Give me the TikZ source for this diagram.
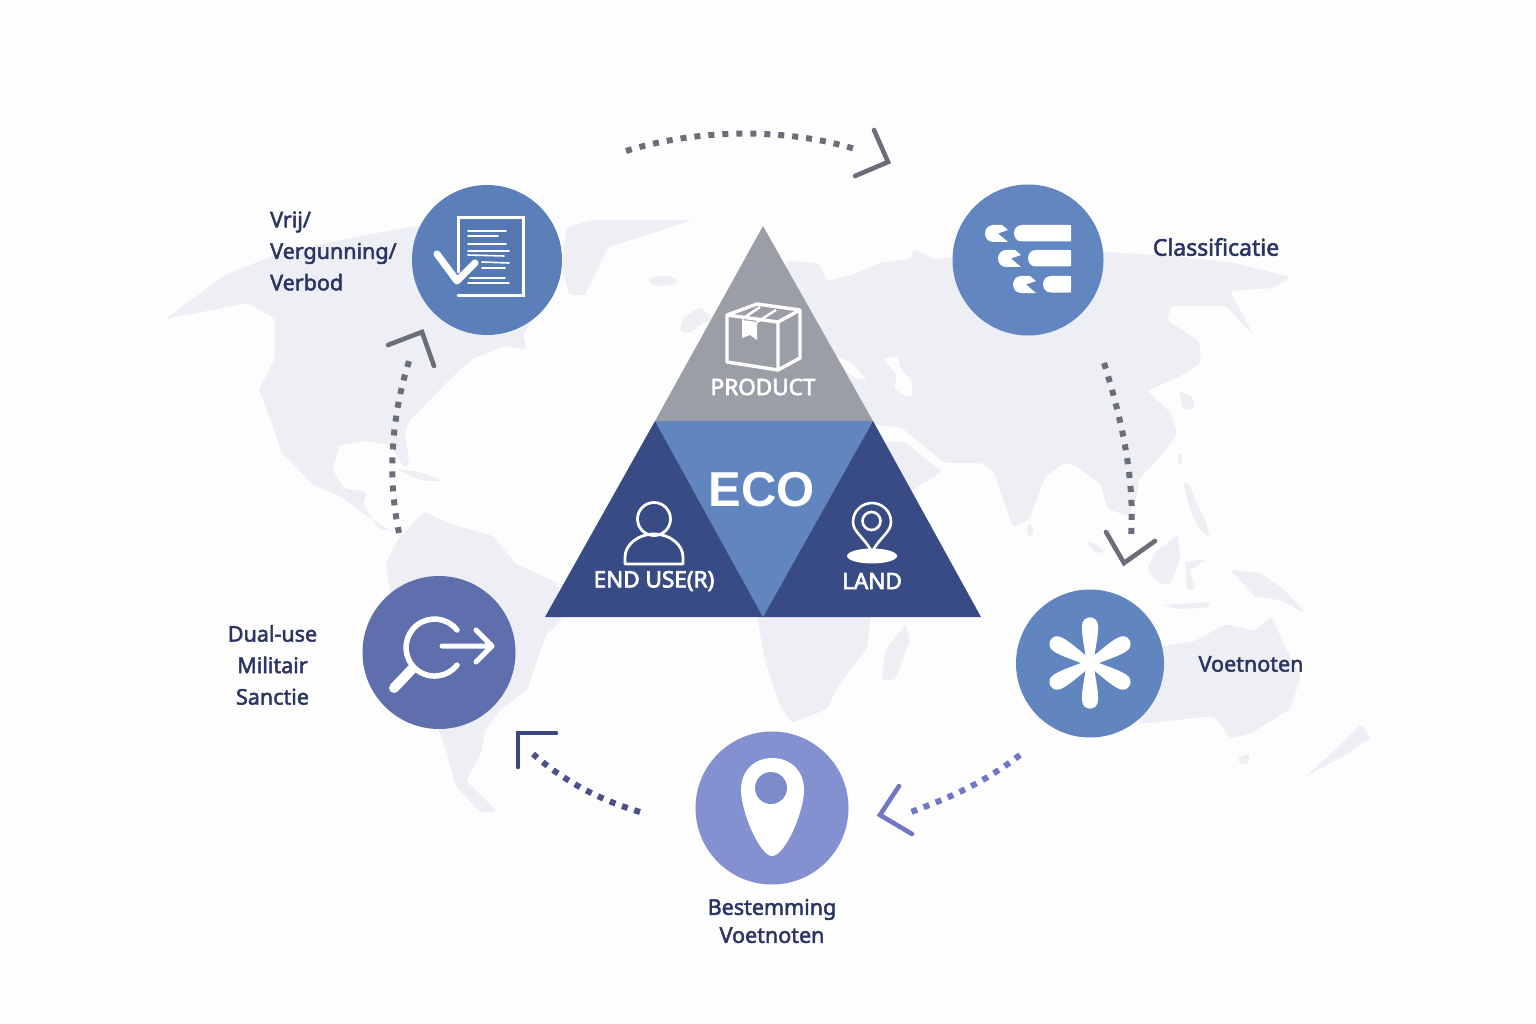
\documentclass[tikz,border=0pt]{standalone}
\usepackage{fontspec}
\setmainfont{Noto Sans}
\newfontfamily\lblfont[FakeBold=2.2]{Noto Sans}
\newfontfamily\triofont[FakeBold=3]{Noto Sans}
\newfontfamily\ecofont{Liberation Sans}[BoldFont={Liberation Sans Bold}]
\definecolor{bgc}{HTML}{FDFDFD}
\definecolor{landc}{HTML}{EDEFF4}
\definecolor{txtc}{HTML}{2A3563}
\definecolor{grayt}{HTML}{9B9EA6}
\definecolor{midt}{HTML}{6085BF}
\definecolor{darkt}{HTML}{384B85}
\definecolor{gdot}{HTML}{6B6E78}
\definecolor{pdot}{HTML}{6F78C4}
\definecolor{ddot}{HTML}{4D5186}
\definecolor{dchev}{HTML}{3C4680}
\definecolor{hubA}{HTML}{5B7FB9}
\definecolor{hubB}{HTML}{6286C0}
\definecolor{hubC}{HTML}{6085BF}
\definecolor{hubD}{HTML}{8391D0}
\definecolor{hubE}{HTML}{5F6FAE}
\definecolor{docin}{HTML}{5678B2}
\definecolor{pinhole}{HTML}{7D8DCC}
\tikzset{
  land/.style={fill=landc,draw=none,rounded corners=3pt},
  hole/.style={fill=bgc,draw=none,rounded corners=2pt},
  hub/.style={circle,draw=none,inner sep=0pt,minimum size=#1},
  lbl/.style={text=txtc,inner sep=0pt,font=\lblfont\fontsize{21.5}{31.5}\selectfont},
  trio/.style={text=white,inner sep=0pt,font=\triofont\fontsize{22.5}{26}\selectfont},
  wline/.style={draw=white,line cap=round,line join=round},
  dots/.style={line width=6pt,dash pattern=on 6pt off 8pt},
  chev/.style={line width=4.6pt,line join=miter,line cap=round,fill=none}
}
\begin{document}
\begin{tikzpicture}[x=1pt,y=-1pt]
\useasboundingbox (0,0) rectangle (1536,1024);
\fill[bgc] (0,0) rectangle (1536,1024);
% ---- map
\fill[land] (166,319)--(198,295)--(225,275)--(275,255)--(340,240)--(420,225)--(470,240)--(560,280)--(523,334)--(527,350)--(504,346)--(474,358)--(451,378)--(428,402)--(409,421)--(405,433)--(409,461)--(405,469)--(390,445)--(366,441)--(340,445)--(332,469)--(344,488)--(367,492)--(363,504)--(378,528)--(393,532)--(367,516)--(340,496)--(313,485)--(298,469)--(282,453)--(271,421)--(259,390)--(275,358)--(275,319)--(248,303)--cycle;
\fill[land] (397,469)--(420,472)--(443,481)--(425,481)--(410,476)--cycle;
\fill[land] (424,512)--(451,524)--(493,536)--(516,564)--(558,583)--(562,619)--(546,635)--(527,690)--(500,710)--(485,730)--(481,753)--(466,781)--(497,811)--(481,813)--(455,785)--(447,753)--(439,730)--(390,591)--(386,564)--(397,540)--cycle;
\fill[land] (566,228)--(592,220)--(692,220)--(657,232)--(608,247)--(585,295)--(569,295)--(562,267)--cycle;
\fill[landc] (663,281) ellipse[x radius=14pt,y radius=5pt];
\fill[land] (682,320)--(695,310)--(700,307)--(713,318)--(700,325)--(690,333)--(680,332)--cycle;
\fill[land] (788,261)--(819,263)--(827,281)--(855,274)--(879,263)--(910,259)--(914,249)--(934,259)--(980,255)--(1104,252)--(1175,256)--(1234,263)--(1290,277)--(1274,288)--(1230,291)--(1254,336)--(1226,306)--(1171,306)--(1167,320)--(1199,341)--(1201,363)--(1179,377)--(1147,391)--(1171,413)--(1177,434)--(1155,463)--(1140,477)--(1136,499)--(1128,516)--(1108,509)--(1100,484)--(1076,466)--(1064,463)--(1045,477)--(1029,520)--(1013,527)--(993,470)--(981,463)--(945,463)--(935,455)--(902,428)--(870,424)--(780,400)--(770,300)--cycle;
\fill[land] (800,440)--(905,442)--(942,472)--(917,487)--(905,500)--(871,616)--(867,649)--(839,684)--(827,709)--(792,723)--(780,706)--(765,660)--(757,617)--(750,500)--cycle;
\fill[land] (906,624)--(910,640)--(895,680)--(882,680)--(885,650)--cycle;
\fill[hole] (837,357)--(850,362)--(867,380)--(855,378)--(845,370)--cycle;
\fill[hole] (883,359)--(898,356)--(900,368)--(912,381)--(912,397)--(903,395)--(894,388)--(897,375)--cycle;
\fill[hole] (1147,391)--(1179,385)--(1195,409)--(1180,412)--(1170,395)--cycle;
\fill[land] (1179,391)--(1192,396)--(1195,409)--(1183,410)--cycle;
\fill[land] (1179,452)--(1183,456)--(1180,467)--(1177,462)--cycle;
\fill[land] (1183,482)--(1190,485)--(1195,500)--(1205,520)--(1210,538)--(1200,530)--(1190,510)--cycle;
\fill[land] (1147,570)--(1155,552)--(1178,535)--(1180,560)--(1170,584)--(1160,584)--cycle;
\fill[land] (1086,541)--(1095,543)--(1105,552)--(1095,553)--cycle;
\fill[land] (1163,605)--(1210,602)--(1208,608)--(1175,609)--cycle;
\fill[land] (1185,562)--(1207,559)--(1190,570)--(1195,590)--(1187,590)--cycle;
\fill[land] (1230,570)--(1260,573)--(1285,590)--(1305,613)--(1280,600)--(1255,597)--(1240,580)--cycle;
\fill[land] (1029,522)--(1034,530)--(1030,538)--(1026,530)--cycle;
\fill[land] (1139,650)--(1195,641)--(1226,624)--(1254,631)--(1272,616)--(1282,641)--(1301,677)--(1290,709)--(1250,734)--(1230,738)--(1214,716)--(1139,724)--cycle;
\fill[land] (1238,757)--(1250,754)--(1248,764)--(1240,765)--cycle;
\fill[land] (1361,724)--(1371,738)--(1345,755)--(1305,777)--(1335,750)--cycle;
% ---- connectors
\coordinate (a1s) at (626,151); \coordinate (a1e) at (858,150);
\coordinate (h1a) at (874,130); \coordinate (h1t) at (888,162); \coordinate (h1b) at (855,176);
\draw[gdot,dots] (a1s) .. controls (700,128) and (790,128) .. (a1e);
\draw[gdot,chev] (h1a)--(h1t)--(h1b);
\coordinate (a2s) at (1104,363); \coordinate (a2e) at (1131,537);
\coordinate (h2a) at (1106,532); \coordinate (h2t) at (1124,563); \coordinate (h2b) at (1155,541);
\draw[gdot,dots] (a2s) .. controls (1122,420) and (1135,480) .. (a2e);
\draw[gdot,chev] (h2a)--(h2t)--(h2b);
\coordinate (a3s) at (1020,755); \coordinate (a3e) at (908,813);
\coordinate (h3a) at (899,786); \coordinate (h3t) at (880,815); \coordinate (h3b) at (912,834);
\draw[pdot,dots,dash pattern=on 6pt off 7pt] (a3s) .. controls (985,782) and (950,798) .. (a3e);
\draw[pdot,chev] (h3a)--(h3t)--(h3b);
\coordinate (a4s) at (640,812); \coordinate (a4e) at (533,754);
\coordinate (h4a) at (556,733); \coordinate (h4t) at (518,733); \coordinate (h4b) at (518,767);
\draw[ddot,dots,dash pattern=on 6pt off 7pt] (a4s) .. controls (600,800) and (565,782) .. (a4e);
\draw[dchev,chev] (h4a)--(h4t)--(h4b);
\coordinate (a5s) at (399,533); \coordinate (a5e) at (410,358);
\coordinate (h5a) at (388,345); \coordinate (h5t) at (422,332); \coordinate (h5b) at (434,366);
\draw[gdot,dots] (a5s) .. controls (388,480) and (390,420) .. (a5e);
\draw[gdot,chev] (h5a)--(h5t)--(h5b);
% ---- triangle
\fill[grayt] (763,226)--(873,421)--(655,421)--cycle;
\fill[midt] (655,421)--(873,421)--(763,617)--cycle;
\fill[darkt] (655,421)--(763,617)--(545,617)--cycle;
\fill[darkt] (873,421)--(981,617)--(763,617)--cycle;
% box icon
\draw[white,line width=3.4pt,line join=round] (757,304)--(800,310)--(800,358)--(778,370)--(727,362)--(727,315)--cycle;
\draw[white,line width=3.4pt,line join=round] (727,315)--(778,322)--(778,370) (778,322)--(800,310);
\draw[white,line width=2.5pt] (742,319)--(760,307) (757,322)--(776,310);
\fill[white] (742,320)--(742,338)--(750,335)--(757,340)--(757,322)--cycle;
% person
\draw[white,line width=2.8pt] (654,519) circle[radius=16.5pt];
\draw[white,line width=2.8pt,line join=round] (625,564)--(625,557) .. controls (625,545) and (638,534) .. (654,534) .. controls (670,534) and (683,545) .. (683,557)--(683,564)--cycle;
% land pin
\fill[white] (872,556) ellipse[x radius=25pt,y radius=7.5pt];
\draw[white,fill=darkt,line width=2.6pt,line join=round] (872,552) .. controls (864,537) and (853,532) .. (853,522) .. controls (853,511) and (862,503) .. (872,503) .. controls (882,503) and (891,511) .. (891,522) .. controls (891,532) and (880,537) .. (872,552)--cycle;
\draw[white,line width=2.6pt] (871.5,521) circle[radius=9pt];
\node[trio] (tproduct) at (763,387) {PRODUCT};
\node[trio] (tenduse) at (654,581) {END USE(R)};
\node[trio] (tland) at (872,581) {LAND};
\node[text=white,inner sep=0pt,font=\ecofont\bfseries\fontsize{49}{50}\selectfont] (teco) at (762,490) {ECO};
% ---- hubs
\node[hub=150pt,fill=hubA] (c1) at (487,260) {};
\node[hub=151pt,fill=hubB] (c2) at (1028,260) {};
\node[hub=148pt,fill=hubC] (c3) at (1090,663.5) {};
\node[hub=153pt,fill=hubD] (c4) at (772,808) {};
\node[hub=153pt,fill=hubE] (c5) at (439,652.5) {};
% doc icon
\fill[docin] (460,220) rectangle (521,293);
\draw[white,line width=3pt,line cap=round] (458,272)--(458,218)--(523,218)--(523,295)--(458,295);
\draw[wline,line width=1.6pt]
 (468,231)--(506,231) (468,236)--(498,236) (468,244)--(506,244) (468,251)--(509,251)
 (468,255)--(504,256) (482,262)--(509,263) (482,268)--(505,268) (470,278)--(505,278) (468,283)--(509,283);
\draw[wline,line width=7pt] (437,254)--(457,281)--(475,263);
% classification icon
\foreach \bx/\by/\bw in {1014/225/57,1028/250/43,1043/276/28}{
  \fill[white] (\bx+8,\by) -- (\bx+\bw-2,\by) .. controls (\bx+\bw,\by) and (\bx+\bw,\by) .. (\bx+\bw,\by+2) -- (\bx+\bw,\by+14.5) .. controls (\bx+\bw,\by+16.5) and (\bx+\bw,\by+16.5) .. (\bx+\bw-2,\by+16.5) -- (\bx+8,\by+16.5) .. controls (\bx-2.6,\by+16.5) and (\bx-2.6,\by) .. (\bx+8,\by)--cycle;
}
\foreach \px/\py in {985/225,998/250,1013/276}{
  \fill[white] (\px+23,\py+5) -- (\px+17,\py) -- (\px+8.5,\py) .. controls (\px-2.8,\py) and (\px-2.8,\py+17) .. (\px+8.5,\py+17) -- (\px+23,\py+17) -- (\px+13,\py+8.5) -- cycle;
}
% asterisk
\foreach \ang in {0,60,120,180,240,300}{
  \fill[white,shift={(1090,663)},rotate=\ang] (-4,-4) .. controls (-5.5,-16) and (-8.5,-28) .. (-8,-37) .. controls (-8,-48.5) and (8,-48.5) .. (8,-37) .. controls (8.5,-28) and (5.5,-16) .. (4,-4) -- cycle;
}
\fill[white] (1090,663) circle[radius=8pt];
% magnifier + arrow
\draw[white,line width=5.5pt,line cap=round] (457,630) arc[start angle=38,end angle=322,radius=28.5pt];
\draw[white,line width=10pt,line cap=round] (412,669)--(394,688);
\draw[white,line width=5pt,line cap=round,line join=round] (442,646)--(492,646) (476,630)--(492,646)--(476,662);
% big pin
\fill[white] (772,856) .. controls (760,856) and (741,812) .. (741,790) .. controls (741,770) and (755,758) .. (772,758) .. controls (790,758) and (804,770) .. (804,790) .. controls (804,812) and (785,856) .. (772,856)--cycle;
\fill[pinhole] (771,788) circle[radius=16pt];
% ---- labels
\node[lbl,align=left,anchor=west] (lvrij) at (270,251) {Vrij/\\Vergunning/\\Verbod};
\node[lbl,font=\lblfont\fontsize{23}{31.5}\selectfont] (lclass) at (1216,247) {Classificatie};
\node[lbl] (lvoet) at (1251,664) {Voetnoten};
\node[lbl,align=center] (ldual) at (272.5,665) {Dual-use\\Militair\\Sanctie};
\node[lbl,align=center,font=\lblfont\fontsize{21.5}{28}\selectfont] (lbest) at (772,921) {Bestemming\\Voetnoten};
\end{tikzpicture}
\end{document}
